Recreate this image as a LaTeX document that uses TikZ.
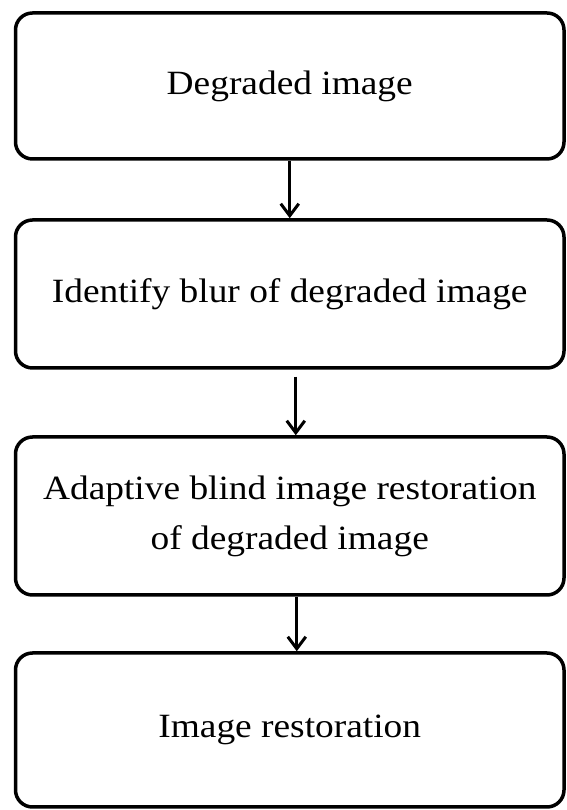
\documentclass[tikz,border=0pt]{standalone}
\usepackage{fontspec}
\setmainfont[FakeStretch=1.1]{Liberation Serif}
\usetikzlibrary{arrows.meta}
\begin{document}
\begin{tikzpicture}[x=1pt,y=1pt,
  stepbox/.style={draw=black, line width=3.5pt, rounded corners=17pt,
    minimum width=548.5pt, inner sep=0pt, align=center,
    font=\fontsize{34}{50}\selectfont},
  flow/.style={line width=3pt, -{Straight Barb[length=12pt,width=18pt,line width=3pt]}}]
\useasboundingbox (0,0) rectangle (566,810);
\node[stepbox, minimum height=146pt] (b1) at (289.75,724) {Degraded image};
\node[stepbox, minimum height=148pt] (b2) at (289.75,516) {Identify blur of degraded image};
\node[stepbox, minimum height=158pt] (b3) at (289.75,294) {Adaptive blind image restoration\\of degraded image};
\node[stepbox, minimum height=154pt] (b4) at (289.75,80) {Image restoration};
\draw[flow] (b1.south) -- (b2.north);
\draw[flow] ([xshift=6pt,yshift=-7pt]b2.south) -- ([xshift=6pt]b3.north);
\draw[flow] ([xshift=7pt]b3.south) -- ([xshift=7pt]b4.north);
\end{tikzpicture}
\end{document}
